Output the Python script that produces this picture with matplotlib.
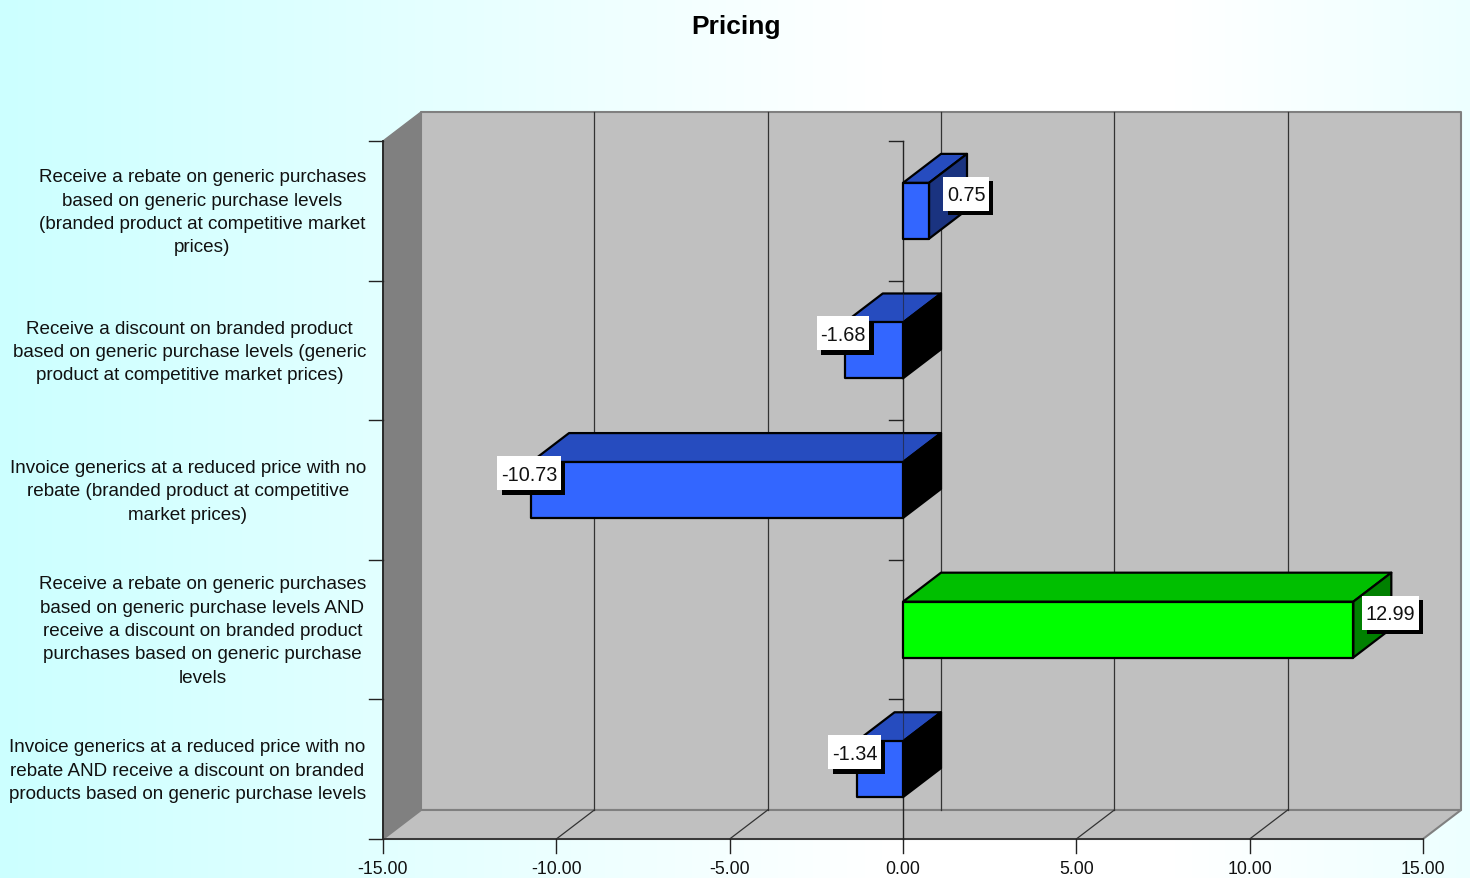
import matplotlib
matplotlib.use('Agg')
import matplotlib.pyplot as plt
import numpy as np
from matplotlib.patches import Polygon, Rectangle

plt.rcParams['font.family'] = ['Liberation Sans', 'DejaVu Sans']

TITLE = 'Pricing'
CATEGORIES = [
    'Receive a rebate on generic purchases\nbased on generic purchase levels\n(branded product at competitive market\nprices)',
    'Receive a discount on branded product\nbased on generic purchase levels (generic\nproduct at competitive market prices)',
    'Invoice generics at a reduced price with no\nrebate (branded product at competitive\nmarket prices)',
    'Receive a rebate on generic purchases\nbased on generic purchase levels AND\nreceive a discount on branded product\npurchases based on generic purchase\nlevels',
    'Invoice generics at a reduced price with no\nrebate AND receive a discount on branded\nproducts based on generic purchase levels',
]
VALUES = [0.75, -1.68, -10.73, 12.99, -1.34]
XTICKS = [-15, -10, -5, 0, 5, 10, 15]

W, H = 1470, 879
LEFT, RIGHT, TOP, BOTTOM = 383, 1423, 142, 840
DEPTH_X_PX, DEPTH_Y_PX = 38, 29

XMIN, XMAX = -15, 15
N = len(CATEGORIES)
# 3d offset in data units
dx = DEPTH_X_PX / ((RIGHT - LEFT) / (XMAX - XMIN))
dy = DEPTH_Y_PX / ((BOTTOM - TOP) / N)
BAR_H = 0.4

BLUE = ('#3366ff', '#264cbf', '#1a3380')
GREEN = ('#00ff00', '#00bf00', '#008000')
EDGE = 'black'
WALL = '#c0c0c0'
WALL_EDGE = '#808080'
GRID = '#333333'


def px(points):
    return points * 0.72


fig = plt.figure(figsize=(W / 100, H / 100), dpi=100)

# background gradient, cyan on the left, white, then pale cyan at the far right
bg = fig.add_axes([0, 0, 1, 1], zorder=0)
bg.axis('off')
xx = np.linspace(0, 1, W)
row = np.ones((1, W, 3))
row[0, :, 0] = np.interp(xx, [0, 0.6, 0.8, 1], [0.8, 1, 1, 0.93])
bg.imshow(row, aspect='auto', extent=[0, 1, 0, 1])

ax = fig.add_axes([LEFT / W, 1 - BOTTOM / H, (RIGHT - LEFT) / W, (BOTTOM - TOP) / H], zorder=1)
ax.set_xlim(XMIN, XMAX)
ax.set_ylim(N, 0)
ax.patch.set_visible(False)
for s in ax.spines.values():
    s.set_visible(False)
ax.set_xticks([])
ax.set_yticks([])


def poly(pts, fc, ec=EDGE, lw=1.6, z=2):
    ax.add_patch(Polygon(pts, closed=True, facecolor=fc, edgecolor=ec, linewidth=lw,
                         zorder=z, clip_on=False, joinstyle='round'))


# walls
poly([(XMIN + dx, -dy), (XMAX + dx, -dy), (XMAX + dx, N - dy), (XMIN + dx, N - dy)], WALL, WALL_EDGE, 1.5, 1)
poly([(XMIN, 0), (XMIN + dx, -dy), (XMIN + dx, N - dy), (XMIN, N)], WALL_EDGE, WALL_EDGE, 1.0, 1)
poly([(XMIN, N), (XMIN + dx, N - dy), (XMAX + dx, N - dy), (XMAX, N)], WALL, WALL_EDGE, 1.5, 1)

# grid on back wall and floor
for t in XTICKS[1:-1]:
    ax.plot([t + dx, t + dx], [-dy, N - dy], color=GRID, lw=0.9, zorder=1.5, clip_on=False)
    if t != 0:
        ax.plot([t, t + dx], [N, N - dy], color=GRID, lw=0.9, zorder=1.5, clip_on=False)

# front axes
ax.plot([XMIN, XMIN], [0, N], color='#222222', lw=1.3, zorder=1.6, clip_on=False)
ax.plot([XMIN, XMAX], [N, N], color='#333333', lw=1.3, zorder=1.6, clip_on=False)
ax.plot([0, 0], [0, N], color='#222222', lw=1.0, zorder=1.6, clip_on=False)

# ticks
for t in XTICKS:
    ax.plot([t, t], [N, N + 14 / ((BOTTOM - TOP) / N)], color='#222222', lw=1.0, clip_on=False, zorder=1.6)
    ax.annotate(f'{t:.2f}', xy=(t, N), xytext=(0, -px(21)), textcoords='offset points',
                ha='center', va='top', fontsize=12.8, color='#111111', annotation_clip=False)
tick_len = 14 / ((RIGHT - LEFT) / (XMAX - XMIN))
for i in range(N + 1):
    ax.plot([XMIN - tick_len, XMIN], [i, i], color='#222222', lw=1.0, clip_on=False, zorder=1.6)
    if i < N:
        ax.plot([-tick_len, 0], [i, i], color='#222222', lw=1.0, clip_on=False, zorder=1.6)

# category labels
for i, label in enumerate(CATEGORIES):
    ax.annotate(label, xy=(XMIN, i + 0.5), xytext=(-px(17), -px(1)), textcoords='offset points',
                ha='right', va='center', multialignment='center', fontsize=13.55, color='#111111',
                linespacing=1.49, annotation_clip=False)

# bars
renderer = fig.canvas.get_renderer()
for i, v in enumerate(VALUES):
    front, top, side = GREEN if v > 12 else BLUE
    y0 = i + 0.5 - BAR_H / 2
    y1 = i + 0.5 + BAR_H / 2
    poly([(0, y0), (v, y0), (v + dx, y0 - dy), (dx, y0 - dy)], top, z=3)
    if v < 0:
        poly([(0, y0), (dx, y0 - dy), (dx, y1 - dy), (0, y1)], 'black', z=3)
        ax.plot([0, 0], [y0 - dy, y0], color='#222222', lw=0.8, alpha=0.6, zorder=3.5)
    else:
        poly([(v, y0), (v + dx, y0 - dy), (v + dx, y1 - dy), (v, y1)], side, z=3)
    poly([(0, y0), (v, y0), (v, y1), (0, y1)], front, z=4)

    # value label, white box with a black shadow, sized in pixels
    off_x = 37 if v > 0 else -2
    cx, cy = ax.transData.transform((v, i + 0.5))
    cx, cy = cx + off_x, cy + 17
    txt = fig.text(cx / W, (cy - 1) / H, f'{v:.2f}', ha='center', va='center', fontsize=14.3,
                   color='#111111', zorder=6)
    bw, bh = txt.get_window_extent(renderer).width + 7, 34
    for shift, color, z in [(4.5, 'black', 5), (0, 'white', 5.5)]:
        fig.add_artist(Rectangle((cx - bw / 2 + shift, cy - bh / 2 - shift), bw, bh, facecolor=color,
                                 edgecolor='none', transform=None, zorder=z))

fig.text(736 / W, 1 - 27 / H, TITLE, ha='center', va='center', fontsize=19, fontweight='bold', color='black', zorder=3)

fig.savefig('out.png', dpi=100)
